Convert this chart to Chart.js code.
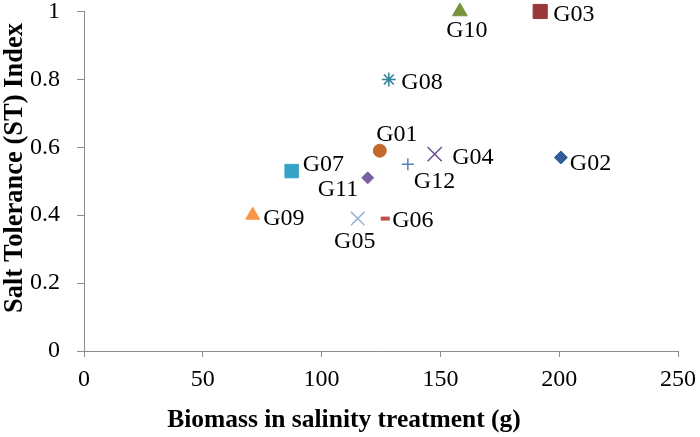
<!DOCTYPE html>
<html>
<head>
<meta charset="utf-8">
<script src="https://cdn.jsdelivr.net/npm/chart.js@4"></script>
<style>
  html, body { margin: 0; padding: 0; background: #fff; }
  #wrap { width: 700px; height: 437px; position: relative; }
</style>
</head>
<body>
<div id="wrap"><canvas id="c"></canvas></div>
<script>
// genotype data
const names   = ['G01', 'G02', 'G03', 'G04', 'G05', 'G06', 'G07', 'G08', 'G09', 'G10', 'G11', 'G12'];
const biomass = [124.5, 200.7, 192, 147.6, 115.2, 126.8, 87.4, 128.3, 71, 158.2, 119.4, 136.3];
const stIndex = [0.59, 0.57, 1.0, 0.58, 0.39, 0.39, 0.53, 0.80, 0.40, 1.0, 0.51, 0.55];
const xTicks  = [0, 50, 100, 150, 200, 250];
const yTicks  = [0, 0.2, 0.4, 0.6, 0.8, 1];
const xTitle  = 'Biomass in salinity treatment (g)';
const yTitle  = 'Salt Tolerance (ST) Index';

// marker look per genotype
const colors = ['#c3692c', '#2f5d98', '#993838', '#6b4f8f', '#95b3d7', '#c0504d',
                '#35a2c6', '#31859c', '#f79646', '#77933c', '#7c5ea2', '#4f81bd'];
const shapes = ['circle', 'rectRot', 'rect', 'crossRot', 'crossRot', 'line',
                'rect', 'star', 'triangle', 'triangle', 'rectRot', 'cross'];
const sizes  = [6.5, 6.5, 10, 10, 9.5, 4.5, 9.5, 7, 8, 8.5, 6, 6];
// label placement relative to marker (cap-centre): [dx, dy, align]
const labelPos = [
  [17, -17.5, 'center'], [9, 5, 'left'], [13, 1.5, 'left'], [17.5, 1.5, 'left'],
  [-3, 21, 'center'], [7, 0, 'left'], [11, -7.5, 'left'], [12.5, 1.5, 'left'],
  [10.5, 2, 'left'], [7, 18, 'center'], [-9.5, 10, 'right'], [6, 16, 'left']
];

const FONT = 'Liberation Serif, "Times New Roman", serif';
const AXIS = '#8c8c8c';
const LABEL_PX = 24;

function lineW(shape) {
  if (shape === 'line') return 4;
  if (shape === 'crossRot' || shape === 'cross' || shape === 'star') return 1.5;
  return 1;
}

const datasets = names.map((n, i) => ({
  label: n,
  data: [{ x: biomass[i], y: stIndex[i] }],
  clip: false,
  pointStyle: shapes[i],
  pointRadius: sizes[i],
  pointHoverRadius: sizes[i],
  backgroundColor: colors[i],
  borderColor: colors[i],
  borderWidth: lineW(shapes[i]),
}));

// point names next to each marker
const pointLabels = {
  id: 'pointLabels',
  afterDatasetsDraw(chart) {
    const ctx = chart.ctx;
    ctx.save();
    ctx.font = LABEL_PX + 'px ' + FONT;
    ctx.fillStyle = '#000';
    ctx.textBaseline = 'alphabetic';
    const half = LABEL_PX * 0.33;   // half cap height
    chart.data.datasets.forEach((ds, i) => {
      const pt = chart.getDatasetMeta(i).data[0];
      const [dx, dy, align] = labelPos[i];
      ctx.textAlign = align;
      ctx.fillText(ds.label, pt.x + dx, pt.y + dy + half);
    });
    ctx.restore();
  }
};

// Excel puts the axis titles off-centre, so draw them by hand
const axisTitles = {
  id: 'axisTitles',
  afterDraw(chart) {
    const ctx = chart.ctx;
    ctx.save();
    ctx.fillStyle = '#000';
    ctx.textAlign = 'center';
    ctx.textBaseline = 'alphabetic';
    ctx.font = 'bold 25.5px ' + FONT;
    ctx.fillText(xTitle, 344, 427);
    ctx.translate(22, 168);
    ctx.rotate(-Math.PI / 2);
    ctx.font = 'bold 26.5px ' + FONT;
    ctx.fillText(yTitle, 0, 0);
    ctx.restore();
  }
};

new Chart(document.getElementById('c').getContext('2d'), {
  type: 'scatter',
  data: { datasets },
  plugins: [pointLabels, axisTitles],
  options: {
    responsive: true,
    maintainAspectRatio: false,
    animation: false,
    events: [],
    layout: { padding: { left: 0, right: 22, top: 11, bottom: 0 } },
    plugins: { legend: { display: false }, tooltip: { enabled: false } },
    scales: {
      x: {
        type: 'linear', min: 0, max: 250,
        afterBuildTicks: s => { s.ticks = xTicks.map(v => ({ value: v })); },
        afterFit: s => { s.height = 86; s.paddingLeft = 0; s.paddingRight = 0; },
        grid: { display: true, drawOnChartArea: false, drawTicks: true, tickLength: 6, color: AXIS },
        border: { display: true, color: AXIS, width: 1 },
        ticks: { color: '#000', font: { family: FONT, size: 24 }, padding: 8, maxRotation: 0 },
        title: { display: false },
      },
      y: {
        type: 'linear', min: 0, max: 1,
        afterBuildTicks: s => { s.ticks = yTicks.map(v => ({ value: v })); },
        afterFit: s => { s.width = 84; s.paddingTop = 0; s.paddingBottom = 0; },
        grid: { display: true, drawOnChartArea: false, drawTicks: true, tickLength: 7, color: AXIS },
        border: { display: true, color: AXIS, width: 1 },
        ticks: { color: '#000', font: { family: FONT, size: 24 }, padding: 17,
                 callback: v => String(Math.round(v * 10) / 10) },
        title: { display: false },
      },
    },
  },
});
</script>
</body>
</html>
